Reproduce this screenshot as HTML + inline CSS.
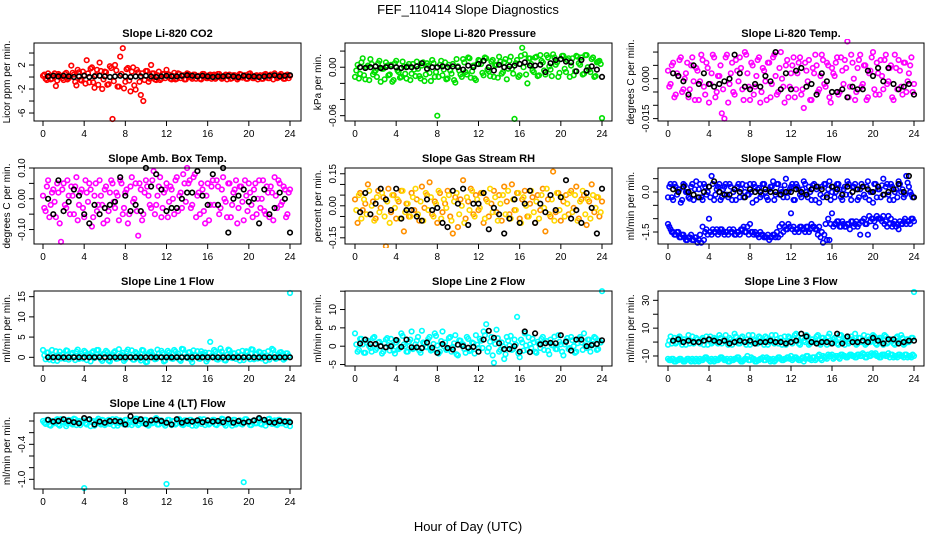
<!DOCTYPE html>
<html><head><meta charset="utf-8"><style>
html,body{margin:0;padding:0;background:#fff;}
svg{display:block;font-family:"Liberation Sans",sans-serif;}
</style></head><body>
<svg id="chart" width="936" height="540" viewBox="0 0 936 540" xmlns="http://www.w3.org/2000/svg">
<text x="468" y="14" text-anchor="middle" font-size="13">FEF_110414  Slope Diagnostics</text>
<text x="468" y="531" text-anchor="middle" font-size="13">Hour of Day (UTC)</text>
</svg>
<script>
const hours = Array.from({length:97},(_,i)=>i*0.25);
const hoursB = Array.from({length:96},(_,i)=>0.125+i*0.25);
const blackHours = Array.from({length:48},(_,i)=>0.5+i*0.5);
const xTicks = [0,4,8,12,16,20,24];

const co2Vals = [0.2,-0.3,0.6,-0.4,0.3,-1.5,0.5,0.1,-0.5,0.7,-0.2,1.9,0.4,
-1.4,0.8,-0.6,0.3,2.8,-0.9,1.6,-1.8,1.2,2.4,-2.0,0.9,
-1.3,1.8,-7.0,2.0,-1.6,3.4,4.8,-0.8,1.5,-2.4,1.6,-2.1,
0.8,-3.0,-4.0,1.0,-0.8,2.0,0.6,-0.5,0.9,-0.3,0.5,1.2,
0.4,-0.4,0.7,-0.3,0.5,0.2,-0.4,0.6,0.3,-0.3,0.4,0.1,
-0.3,0.5,0.2,-0.2,0.4,0.3,-0.3,0.5,0.2,-0.2,0.4,0.1,
-0.3,0.3,0.2,-0.2,0.4,0.1,-0.3,0.5,0.2,-0.2,0.3,0.1,
-0.3,0.4,0.2,-0.2,0.3,0.6,-0.2,0.3,0.1,-0.3,0.4,0.2];
const co2ValsB = [0.4,-0.5,0.2,-0.3,0.6,-0.6,0.3,-0.2,0.5,-0.4,0.1,0.7,
-0.8,1.2,-0.5,0.9,-1.1,0.6,1.4,-0.9,0.3,-1.3,1.0,-0.4,
0.8,-1.2,1.5,-0.7,1.1,-1.6,0.5,-1.9,1.3,-0.6,0.9,-1.4,
1.2,-0.8,0.6,-0.5,1.0,-0.3,0.6,-0.4,0.3,-0.5,0.5,-0.2,
0.5,-0.3,0.2,-0.4,0.6,-0.2,0.3,-0.4,0.5,-0.1,0.4,-0.3,
0.2,-0.4,0.5,-0.2,0.3,-0.3,0.4,-0.1,0.5,-0.3,0.2,-0.4,
0.4,-0.2,0.3,-0.4,0.5,-0.1,0.3,-0.3,0.6,-0.2,0.2,-0.4,
0.3,-0.3,0.5,-0.2,0.4,-0.4,0.2,-0.1,0.5,-0.3,0.3,-0.2];
const co2Black = [0.1,0.2,0.1,0.2,0.1,0,0.1,0.2,0,0.1,0.2,0.1,0,0.1,0.2,0.1,0,0.1,0.1,0.2,0.1,0,0.1,0.2,0.1,0.1,0.2,0.3,0.2,0.1,0.2,0.1,0,0.1,0.1,0.2,0.1,0,0.2,0.1,0.1,0,0.1,0.2,0.3,0.1,0.2,0.3];

const presVals = [-0.012,0.003,-0.008,0.011,-0.015,0.002,0.010,-0.009,-0.004,0.005,-0.018,-0.002,0.006,
-0.010,0.003,-0.016,0.008,-0.006,-0.012,0.001,-0.014,0.004,-0.008,-0.003,0.007,
-0.011,0.002,-0.017,0.005,-0.007,0.009,-0.012,-0.060,0.003,-0.010,0.006,-0.014,
-0.004,0.004,-0.019,0.001,-0.009,0.010,-0.006,0.012,-0.013,0.002,-0.016,0.009,
0.004,-0.010,0.011,-0.005,0.007,-0.012,0.003,0.013,-0.008,0.006,-0.015,0.008,
-0.002,-0.064,0.009,-0.010,0.024,0.016,-0.020,0.011,-0.004,0.012,-0.011,0.015,
0.006,-0.009,0.012,-0.003,0.016,0.003,-0.012,0.010,0.014,-0.006,0.011,0.002,
-0.010,0.014,0.005,0.012,-0.008,0.015,-0.003,0.010,-0.012,0.006,0.008,-0.063];
const presValsB = [-0.004,-0.014,0.006,-0.010,0.000,-0.016,0.004,-0.006,-0.012,0.008,-0.002,-0.015,
0.002,-0.009,-0.018,0.005,-0.004,-0.013,0.007,-0.008,0.001,-0.016,0.004,-0.011,
-0.002,-0.014,0.006,-0.009,0.002,-0.017,0.005,-0.006,-0.012,0.008,-0.003,-0.015,
0.003,-0.008,-0.016,0.010,-0.004,-0.012,0.006,-0.009,0.011,-0.005,-0.014,0.004,
0.008,-0.007,0.012,-0.003,-0.011,0.009,0.002,-0.013,0.007,-0.006,0.010,-0.002,
0.013,-0.008,0.005,-0.012,0.014,0.000,-0.009,0.011,0.004,-0.006,0.013,-0.010,
0.008,-0.004,0.015,0.001,-0.011,0.012,0.006,-0.007,0.014,-0.002,0.009,-0.012,
0.011,-0.005,0.013,0.003,-0.009,0.015,0.000,-0.006,0.012,-0.011,0.007,0.004];
const presBlack = [0.000,-0.001,0.000,0.001,-0.001,0.000,0.001,0.000,-0.001,0.000,0.000,0.001,0.005,-0.002,0.000,0.000,0.001,0.000,0.001,0.000,-0.003,0.002,0.000,0.004,0.008,0.000,-0.004,0.003,0.000,0.001,0.002,0.004,0.006,0.002,0.002,0.003,-0.006,0.005,0.009,0.010,0.007,0.006,-0.005,0.009,-0.004,0.001,-0.003,-0.012];

const tempVals = [0.003,-0.002,0.006,-0.006,0.001,0.008,-0.004,0.002,-0.007,0.005,-0.001,0.004,-0.008,
0.009,-0.003,0.006,-0.009,0.002,0.008,-0.005,0.001,-0.013,-0.015,0.009,-0.002,
0.006,-0.006,0.003,0.008,-0.004,0.010,0.002,-0.008,0.005,-0.003,0.007,-0.009,
0.004,-0.001,0.006,-0.007,0.008,0.001,-0.005,0.010,-0.003,0.005,-0.007,0.002,
0.008,-0.004,0.006,-0.006,-0.011,0.003,0.007,-0.008,0.002,0.005,-0.004,0.009,
-0.002,0.006,-0.007,0.004,0.001,0.008,-0.005,0.003,0.007,0.014,-0.003,0.006,
-0.008,0.004,0.009,-0.002,0.005,-0.007,0.003,0.010,-0.006,0.002,0.007,-0.004,
0.009,-0.001,0.005,-0.008,0.004,0.007,-0.003,0.006,-0.005,0.002,0.008,-0.002];
const tempValsB = [-0.003,0.005,-0.007,0.002,0.007,-0.005,0.000,0.006,-0.004,0.008,-0.008,0.003,
-0.001,0.007,-0.006,0.004,-0.002,0.009,-0.007,0.001,0.005,-0.004,0.008,-0.009,
0.002,-0.005,0.007,-0.001,0.004,-0.008,0.009,-0.003,0.006,-0.006,0.001,0.008,
-0.005,0.003,-0.008,0.006,-0.002,0.009,-0.006,0.004,0.000,-0.009,0.007,-0.003,
0.005,-0.007,0.002,0.008,-0.004,0.006,-0.001,-0.008,0.004,0.009,-0.005,0.001,
0.007,-0.003,0.005,-0.009,0.002,0.006,-0.006,0.008,-0.002,0.004,-0.007,0.009,
0.000,-0.005,0.007,-0.003,0.005,-0.008,0.002,0.008,-0.004,0.006,-0.006,0.001,
0.007,-0.002,0.004,-0.007,0.009,-0.004,0.003,-0.006,0.006,-0.001,0.005,-0.005];
const tempBlack = [0.002,0.001,-0.001,-0.006,0.005,-0.002,0.002,-0.002,-0.003,-0.002,-0.001,0.000,0.009,0.002,-0.003,-0.004,-0.002,-0.003,0.001,-0.001,0.010,-0.004,0.002,-0.004,0.003,0.004,-0.003,-0.002,-0.006,0.002,-0.001,-0.005,-0.005,-0.004,-0.007,-0.003,-0.004,-0.004,0.003,0.001,0.004,-0.001,0.004,-0.002,-0.004,-0.003,-0.002,-0.006];

const ambVals = [0.01,-0.04,0.06,-0.02,0.03,-0.06,0.02,-0.14,0.05,-0.03,0.01,0.04,-0.05,
0.07,-0.02,0.03,-0.06,0.02,0.05,-0.09,0.01,-0.04,0.06,-0.02,0.03,
-0.07,0.02,0.05,-0.03,0.01,0.06,-0.05,0.02,-0.08,0.04,-0.01,0.05,
-0.12,0.03,-0.05,0.06,0.01,-0.03,0.09,-0.02,0.04,-0.06,0.02,0.05,
-0.01,0.03,-0.05,0.07,0.01,-0.03,0.05,0.10,0.06,-0.02,0.08,0.01,
-0.05,0.03,-0.08,0.05,-0.02,0.06,-0.17,0.04,-0.03,0.07,-0.01,0.05,
-0.06,0.02,0.06,-0.03,0.04,-0.07,0.01,0.05,-0.02,0.03,-0.05,0.06,
0.00,-0.04,0.04,-0.06,0.02,0.07,-0.03,0.05,-0.01,0.03,-0.05,0.03];
const ambValsB = [-0.03,0.04,-0.06,0.02,-0.01,0.05,-0.08,0.03,-0.02,0.06,-0.05,0.01,
0.04,-0.07,0.02,-0.03,0.06,-0.01,0.03,-0.06,0.05,-0.02,0.01,-0.08,
0.04,-0.04,0.06,-0.01,0.02,-0.07,0.05,-0.03,0.03,-0.05,0.07,0.00,
-0.04,0.05,-0.07,0.02,0.04,-0.02,0.06,-0.05,0.01,0.07,-0.03,0.03,
-0.06,0.04,0.00,0.06,-0.04,0.02,0.08,-0.01,0.05,-0.03,0.07,-0.06,
0.02,0.05,-0.04,0.01,-0.07,0.04,-0.02,0.06,-0.05,0.03,0.00,-0.06,
0.05,-0.02,0.03,-0.08,0.04,-0.01,0.06,-0.04,0.02,-0.06,0.05,0.00,
-0.03,0.06,-0.05,0.02,0.04,-0.07,0.01,0.06,-0.02,0.04,-0.06,0.02];
const ambBlack = [0.00,-0.05,0.06,-0.04,-0.01,0.03,0.01,-0.05,-0.08,-0.02,-0.05,-0.03,-0.02,-0.01,0.07,0.01,-0.04,-0.02,-0.04,0.10,0.04,0.08,0.03,-0.04,-0.03,-0.03,0.00,0.02,0.02,0.09,0.01,-0.02,0.08,-0.02,0.10,-0.11,0.00,0.01,0.03,-0.01,0.00,-0.08,0.03,-0.05,-0.03,0.02,0.00,-0.11];

const rhVals = [0.03,-0.08,0.06,-0.02,0.01,0.10,-0.04,0.02,-0.06,0.07,-0.01,0.04,-0.19,
0.08,-0.03,0.05,-0.06,0.02,0.07,-0.12,0.01,-0.05,0.06,-0.02,0.03,
-0.07,0.09,-0.01,0.05,0.11,-0.04,0.02,-0.08,0.06,-0.03,0.01,0.07,
-0.05,-0.13,0.04,-0.10,0.03,0.12,-0.06,0.02,0.08,-0.04,0.05,-0.02,
0.06,-0.08,0.03,-0.05,0.01,0.07,-0.03,0.05,-0.07,0.09,0.02,-0.04,
0.10,-0.02,0.06,-0.06,0.03,0.07,-0.05,0.01,0.04,-0.08,0.05,-0.02,
0.08,-0.12,0.03,-0.05,0.16,-0.03,0.06,-0.07,0.02,0.05,-0.04,0.07,
-0.01,0.09,-0.06,0.03,0.05,-0.09,0.02,0.10,-0.03,0.04,-0.05,0.02];
const rhValsB = [-0.02,0.05,-0.06,0.03,-0.04,0.07,0.00,-0.07,0.04,-0.03,0.06,-0.05,
0.02,-0.08,0.05,-0.01,0.03,-0.06,0.07,-0.03,0.01,-0.05,0.04,0.08,
-0.04,0.02,-0.07,0.06,-0.02,0.04,-0.05,0.01,0.07,-0.06,0.03,-0.01,
0.05,-0.07,0.02,0.06,-0.04,0.00,-0.08,0.04,-0.02,0.07,-0.05,0.03,
-0.01,0.06,-0.06,0.02,0.08,-0.03,0.04,-0.07,0.01,0.05,-0.04,0.07,
-0.06,0.03,-0.02,0.06,-0.08,0.04,0.00,-0.05,0.07,-0.03,0.02,-0.06,
0.05,-0.01,0.08,-0.04,0.03,-0.07,0.06,-0.02,0.04,-0.05,0.01,0.06,
-0.03,0.05,-0.07,0.02,0.07,-0.04,0.03,-0.06,0.05,-0.01,0.04,-0.03];
const rhBlack = [-0.03,0.06,-0.04,0.01,0.08,0.03,-0.02,0.08,-0.06,-0.02,-0.02,-0.05,-0.07,0.03,-0.02,-0.01,-0.08,-0.10,0.07,0.01,0.08,-0.09,0.01,0.01,0.06,-0.11,-0.01,-0.04,-0.13,-0.06,0.03,-0.08,0.01,0.07,-0.08,0.01,-0.03,0.05,-0.02,0.04,0.12,-0.06,-0.02,-0.08,0.06,-0.01,-0.13,0.08];

const sampleUpper = [-0.2,0.3,-0.3,0.2,0.1,-0.4,0.3,0.0,-0.2,0.2,-0.3,0.4,0.1,
-0.2,0.3,-0.1,0.2,0.6,-0.3,0.1,0.3,-0.2,0.2,-0.1,0.3,
-0.3,0.1,0.2,-0.2,0.3,0.0,-0.1,0.3,-0.4,0.2,0.1,-0.2,
0.3,0.0,-0.3,0.2,0.4,-0.1,0.3,0.1,-0.2,0.5,0.0,0.2,
-0.3,0.3,0.1,-0.2,0.4,0.0,0.2,-0.3,0.3,0.1,-0.4,0.2,
0.3,-0.1,0.4,0.0,-0.2,0.3,0.1,-0.3,0.2,0.4,-0.1,0.2,
0.3,-0.3,0.1,0.2,-0.2,0.4,0.0,-0.4,0.3,0.1,-0.2,0.5,
0.2,-0.1,0.3,-0.3,0.1,0.4,0.0,-0.2,0.6,0.2,-0.1,1.2];
const sampleUpperB = [0.2,-0.2,0.3,-0.1,0.1,-0.3,0.25,0.0,-0.25,0.3,0.1,-0.2,
0.3,-0.3,0.2,0.0,-0.2,0.3,-0.1,0.2,-0.3,0.1,0.3,-0.2,
0.2,0.0,-0.3,0.3,0.1,-0.2,0.25,-0.1,0.0,0.3,-0.3,0.15,
-0.1,0.3,-0.2,0.1,0.2,-0.3,0.3,-0.1,0.0,0.25,-0.2,0.1,
0.3,-0.3,0.2,-0.1,0.1,0.3,-0.2,0.0,0.25,-0.3,0.2,-0.1,
-0.2,0.3,0.1,-0.3,0.2,0.0,0.3,-0.2,0.1,-0.1,0.3,-0.3,
0.2,0.1,-0.2,0.3,-0.1,0.2,-0.3,0.0,0.3,-0.2,0.1,0.25,
-0.1,0.3,-0.3,0.2,0.0,-0.2,0.3,0.1,-0.1,0.35,0.0,-0.2];
const sampleLower = [-1.2,-1.4,-1.5,-1.6,-1.5,-1.7,-1.6,-1.8,-1.7,-1.6,-1.8,-1.7,-1.8,
-1.9,-1.8,-1.4,-1.0,-1.6,-1.5,-1.4,-1.5,-1.4,-1.6,-1.5,-1.4,
-1.5,-1.6,-1.5,-1.6,-1.4,-1.5,-1.3,-1.2,-1.5,-1.5,-1.6,-1.5,
-1.6,-1.7,-1.6,-1.7,-1.6,-1.7,-1.7,-1.6,-1.5,-1.4,-1.2,-0.8,
-1.3,-1.4,-1.5,-1.3,-1.4,-1.3,-1.5,-1.2,-1.3,-1.4,-1.3,-1.5,
-1.6,-1.8,-1.8,-0.8,-1.2,-1.1,-1.3,-1.1,-1.3,-1.2,-1.4,-1.1,
-1.2,-1.3,-1.6,-1.1,-1.2,-1.6,-1.1,-1.0,-1.3,-1.0,-1.0,-0.9,
-1.1,-0.9,-1.0,-1.2,-1.3,-1.4,-1.2,-1.1,-1.2,-1.1,-1.0,-1.1];
const sampleLowerB = [-1.3,-1.5,-1.6,-1.5,-1.7,-1.6,-1.7,-1.8,-1.7,-1.8,-1.7,-1.9,
-1.6,-1.3,-1.5,-1.6,-1.5,-1.4,-1.5,-1.6,-1.4,-1.5,-1.5,-1.6,
-1.5,-1.4,-1.6,-1.5,-1.4,-1.3,-1.5,-1.6,-1.5,-1.6,-1.6,-1.7,
-1.6,-1.7,-1.7,-1.8,-1.7,-1.6,-1.5,-1.3,-1.2,-1.3,-1.4,-1.3,
-1.4,-1.5,-1.4,-1.3,-1.4,-1.5,-1.3,-1.4,-1.3,-1.4,-1.6,-1.7,
-1.9,-1.2,-1.0,-1.2,-1.3,-1.2,-1.1,-1.3,-1.2,-1.3,-1.2,-1.1,
-1.3,-1.1,-1.2,-1.1,-1.0,-1.2,-0.9,-1.0,-1.1,-0.9,-1.0,-1.1,
-1.2,-1.3,-1.2,-1.3,-1.1,-1.2,-1.1,-1.2,-1.0,-1.1,-1.2,-1.0];
const sampleBlack = [0.1,0.0,0.2,0.0,-0.1,-0.2,0.0,0.2,0.4,0.0,-0.1,-0.1,0.1,0.0,-0.2,0.1,0.0,0.0,0.1,0.0,0.0,-0.1,0.0,0.0,0.1,0.0,-0.1,0.1,0.2,0.1,-0.2,0.2,0.1,-0.1,0.2,0.0,0.1,0.2,0.1,0.0,0.2,-0.1,0.0,0.1,0.3,0.0,0.6,-0.2];

const line1Vals = [1.8,-0.5,1.2,0.3,-0.8,1.5,0.6,-0.3,1.0,1.7,-0.6,0.8,0.2,
1.4,-0.4,0.9,1.6,-0.7,0.5,1.2,-0.2,1.8,0.4,-0.9,0.8,
1.3,-1.0,0.7,1.5,-0.3,0.4,1.1,-0.5,1.9,0.2,-0.6,1.3,
0.6,-0.8,1.7,-1.2,0.9,1.4,0.1,-0.4,1.0,1.6,-1.0,0.5,
1.2,-0.3,1.8,0.4,-0.6,2.1,0.8,-0.2,1.3,-1.2,0.6,1.5,
-0.4,0.9,1.2,-0.5,3.8,0.3,1.4,-0.6,2.2,0.5,-0.8,1.9,
0.2,1.0,-0.4,1.3,0.6,-0.7,1.5,0.2,2.0,-0.5,0.9,1.4,
-0.3,1.1,0.4,-0.6,2.1,0.7,-0.2,1.2,0.4,-0.3,1.0,15.9];
const line1ValsB = [0.5,1.2,-0.6,1.8,0.2,-0.9,1.4,0.7,-0.4,1.6,0.0,1.1,
-0.7,1.9,0.4,-0.3,1.3,0.8,-1.0,1.5,0.2,1.8,-0.5,0.9,
1.6,-0.8,0.3,1.2,-0.4,2.0,0.6,-0.9,1.4,0.1,1.7,-0.6,
1.0,-0.3,1.8,0.4,-1.1,1.3,0.7,-0.5,1.9,0.2,1.1,-0.8,
1.6,0.3,-0.4,1.4,0.9,-0.9,2.0,0.1,1.2,-0.6,1.7,0.5,
-0.3,1.5,0.8,-1.0,1.1,0.3,1.8,-0.5,0.9,1.4,-0.7,0.6,
1.7,-0.2,1.0,0.4,-0.8,1.6,0.2,1.3,-0.5,1.9,0.7,-0.3,
1.2,0.5,-0.9,1.5,0.1,1.8,-0.4,0.8,1.3,-0.6,1.0,0.4];
const line1Black = [0,0,0,0,0,0,0,0,0,0,0,0,0,0,0,0,0,0,0,0,0,0,0,0,0,0,0,0,0,0,0,0,0,0,0,0,0,0,0,0,0,0,0,0,0,0,0,0];

const line2Vals = [3.5,-1.5,2.0,0.5,-1.8,1.5,-0.5,2.2,-1.0,1.0,0.0,-1.5,1.8,
0.3,2.0,-1.2,1.0,-0.8,3.5,0.5,-1.5,1.2,4.0,-0.5,1.5,
-1.2,4.2,0.8,-0.3,2.5,-1.0,3.5,0.2,-1.5,4.0,1.0,-0.8,
2.5,-0.2,3.0,-2.5,1.5,0.5,-1.8,2.0,-1.0,0.8,3.0,-0.5,
1.5,4.0,6.0,-0.5,2.5,-4.5,4.5,-1.5,1.0,-3.5,2.5,0.2,
-1.0,1.8,8.0,-3.0,1.0,3.5,-1.0,0.5,2.0,-1.5,1.2,-0.5,
2.5,0.8,-1.2,1.8,0.2,-0.8,3.0,0.5,-2.5,1.5,-0.8,2.5,
0.0,-1.5,2.0,1.0,3.5,-0.5,1.8,0.2,2.5,-1.0,1.5,15.0];
const line2ValsB = [0.5,-1.0,2.0,-1.8,1.0,0.0,-1.5,2.5,-0.5,1.2,-2.0,0.8,
2.2,-1.2,0.3,-2.0,1.5,-0.5,2.8,0.0,-1.5,1.8,-0.8,0.5,
2.5,-1.8,1.0,-0.2,2.0,-1.2,0.6,2.8,-2.0,1.4,0.0,-1.0,
2.2,-1.5,0.8,-2.2,1.6,0.2,-0.8,2.5,-1.3,1.0,-2.0,0.4,
2.0,-0.5,3.0,-1.5,1.2,-2.5,0.6,2.2,-1.0,0.0,-2.2,1.5,
2.8,-0.8,0.5,-2.0,1.8,-1.2,0.2,2.4,-0.5,1.0,-1.8,0.6,
2.0,-1.0,1.4,-2.2,0.3,2.6,-0.8,1.2,-1.5,0.5,2.2,-0.5,
1.6,-1.8,0.8,2.5,-1.0,0.2,1.8,-1.5,0.6,2.2,-0.8,1.0];
const line2Black = [0.7,1.8,0.6,0.6,0.0,-0.3,0.0,1.7,-0.2,1.8,-0.3,-0.3,-0.5,1.0,-0.4,-1.8,0.6,-0.5,-0.9,0.4,0.0,-0.4,-0.2,-1.5,1.8,4.2,2.3,0.8,-0.8,-0.8,0.0,-1.5,4.0,-1.6,3.5,0.5,0.8,0.9,0.8,3.0,1.2,-1.2,1.8,1.8,0.0,0.3,0.6,1.6];

const line3Upper = [-2,4,1,-1,3,0,2,-2,5,1,-1,3,0,
2,-2,4,1,-1,3,0,5,-1,2,0,3,
-2,6,1,-1,4,0,2,-2,5,1,-1,3,
0,4,-2,2,0,5,-1,3,1,-2,4,0,
2,6,-1,3,1,5,-2,2,0,4,-1,3,
1,-2,6,0,3,-1,5,1,-2,4,0,2,
6,-1,3,1,-2,4,0,5,-1,2,3,-2,
4,0,2,-1,3,1,5,-2,2,0,3,36];
const line3UpperB = [1,-1,3,0,4,-2,2,1,-1,4,0,2,
-1,3,1,-2,4,0,2,-1,3,1,5,-2,
2,0,4,-1,3,1,-2,5,0,2,-1,4,
1,-2,3,0,5,-1,2,1,-2,4,0,3,
-1,5,1,-2,3,0,4,-1,2,1,5,-2,
3,0,4,-1,2,1,-2,5,0,3,-1,4,
1,-2,3,0,5,-1,2,1,4,-2,3,0,
5,-1,2,1,-2,4,0,3,-1,2,1,3];
const line3Lower = [-12,-13,-12,-14,-13,-12,-14,-13,-12,-14,-13,-12,-14,
-13,-12,-11,-13,-12,-14,-13,-12,-11,-13,-12,-14,
-13,-12,-11,-13,-14,-12,-10,-13,-12,-14,-13,-12,
-11,-13,-12,-14,-12,-13,-11,-12,-13,-12,-11,-10,
-12,-11,-13,-12,-14,-10,-12,-13,-11,-12,-9,-13,
-11,-12,-10,-9,-11,-10,-12,-9,-10,-11,-9,-10,
-11,-9,-10,-8,-11,-9,-10,-9,-8,-10,-11,-9,
-10,-8,-9,-11,-10,-9,-10,-11,-9,-10,-11,-10];
const line3LowerB = [-13,-12,-14,-13,-12,-13,-14,-12,-13,-12,-14,-13,
-12,-13,-11,-12,-14,-13,-12,-13,-11,-12,-13,-14,
-12,-13,-12,-11,-14,-13,-12,-13,-11,-12,-14,-13,
-12,-13,-11,-12,-13,-14,-12,-11,-13,-12,-11,-12,
-13,-11,-12,-13,-11,-12,-10,-12,-11,-13,-10,-12,
-10,-11,-9,-10,-12,-10,-11,-9,-10,-11,-10,-9,
-10,-11,-9,-10,-9,-11,-10,-8,-9,-10,-11,-9,
-9,-10,-11,-9,-10,-11,-9,-10,-9,-11,-10,-9];
const line3Black = [1,2,0,1,0,0,1,2,1,0,1,-1,0,1,0,1,-1,0,0,1,0,0,-1,0,1,6,4,0,-1,0,0,-1,6,-1,4,0,0,1,0,3,1,-1,2,2,-1,0,1,1];

const line4Vals = [0.0,-0.05,0.02,-0.08,-0.03,0.01,-0.06,0.03,-0.02,-0.09,0.02,-0.04,0.04,
-0.07,0.0,-0.03,-1.15,-0.06,0.03,-0.02,-0.08,0.01,-0.04,0.02,-0.07,
0.0,-0.05,0.03,-0.02,-0.08,0.01,-0.04,0.02,-0.06,0.0,-0.03,0.04,
-0.07,0.01,-0.04,0.02,-0.08,0.0,-0.03,0.05,-0.06,0.01,-0.05,-1.08,
0.02,-0.07,0.0,-0.04,0.03,-0.06,0.01,-0.03,0.02,-0.08,0.0,-0.05,
0.03,-0.02,-0.07,0.01,-0.04,0.02,-0.06,0.0,-0.03,0.03,-0.08,0.01,
-0.04,0.02,-0.06,0.0,-0.05,-1.05,0.03,-0.03,-0.07,0.01,-0.04,0.03,
-0.06,0.0,-0.02,0.04,-0.05,0.01,-0.07,0.02,-0.04,0.0,-0.03,-0.09];
const line4ValsB = [-0.03,0.02,-0.07,0.0,-0.04,0.03,-0.08,-0.01,0.02,-0.05,0.01,-0.06,
0.03,-0.02,-0.07,0.01,-0.04,0.02,-0.09,0.0,-0.03,0.04,-0.06,0.01,
-0.05,0.02,-0.02,-0.08,0.03,-0.04,0.0,-0.06,0.02,-0.03,-0.07,0.01,
0.04,-0.05,-0.01,0.02,-0.07,0.0,-0.04,0.03,-0.06,0.01,-0.02,-0.08,
0.02,-0.04,0.0,-0.06,0.03,-0.03,-0.07,0.01,-0.05,0.02,-0.02,-0.08,
0.01,-0.05,0.03,-0.03,-0.06,0.0,0.02,-0.07,-0.02,0.04,-0.05,0.0,
-0.03,-0.08,0.02,-0.04,0.01,-0.06,0.03,-0.02,-0.07,0.0,-0.04,0.02,
-0.05,0.01,-0.08,0.03,-0.03,0.0,-0.06,0.02,-0.04,-0.01,-0.07,0.0];
const line4Black = [0.02,-0.01,0.0,0.03,0.0,-0.02,-0.04,0.05,0.03,-0.06,-0.01,-0.03,0.0,0.0,-0.01,-0.06,0.08,0.0,0.03,-0.05,0.01,0.02,0.0,-0.03,-0.06,0.03,-0.03,0.0,-0.01,0.01,-0.02,0.01,-0.01,0.0,-0.02,0.03,-0.03,0.0,-0.03,-0.01,0.01,0.05,0.02,-0.02,-0.03,0.0,-0.01,-0.02];

const NS = "http://www.w3.org/2000/svg";
const svg = document.getElementById('chart');
const cols = [{L:34,R:301,x0:43,x24:290},{L:345,R:612,x0:355,x24:602},{L:658,R:924,x0:668,x24:914}];
const rows = [{T:43,B:121},{T:168,B:244},{T:291,B:366},{T:413,B:489}];

const panels = [
 {key:'co2',title:'Slope Li-820 CO2',ylab:'Licor ppm per min.',r:0,c:0,dom:[-7.33,5.67],ticks:[4,2,0,-2,-4,-6],labels:[[2,'2'],[-2,'-2'],[-6,'-6']],color:'#ff0000',colorB:'#ff0000',series:[co2Vals],seriesB:[co2ValsB],black:co2Black},
 {key:'pressure',title:'Slope Li-820 Pressure',ylab:'kPa per min.',r:0,c:1,dom:[-0.0666,0.030],ticks:[0.02,0,-0.02,-0.04,-0.06],labels:[[0,'0.00'],[-0.06,'-0.06']],color:'#00e000',colorB:'#00e000',series:[presVals],seriesB:[presValsB],black:presBlack},
 {key:'temp',title:'Slope Li-820 Temp.',ylab:'degrees C per min.',r:0,c:2,dom:[-0.0159,0.0134],ticks:[0.01,0.005,0,-0.005,-0.01,-0.015],labels:[[0,'0.000'],[-0.015,'-0.015']],color:'#ff00ff',colorB:'#ff00ff',series:[tempVals],seriesB:[tempValsB],black:tempBlack},
 {key:'amb-box',title:'Slope Amb. Box Temp.',ylab:'degrees C per min.',r:1,c:0,dom:[-0.147,0.10],ticks:[0.1,0.05,0,-0.05,-0.1],labels:[[0.1,'0.10'],[0,'0.00'],[-0.1,'-0.10']],color:'#ff00ff',colorB:'#ff00ff',series:[ambVals],seriesB:[ambValsB],black:ambBlack},
 {key:'gas-rh',title:'Slope Gas Stream RH',ylab:'percent per min.',r:1,c:1,dom:[-0.179,0.177],ticks:[0.15,0.1,0.05,0,-0.05,-0.1,-0.15],labels:[[0.15,'0.15'],[0,'0.00'],[-0.15,'-0.15']],color:'#ff9000',colorB:'#ffd800',series:[rhVals],seriesB:[rhValsB],black:rhBlack},
 {key:'sample-flow',title:'Slope Sample Flow',ylab:'ml/min per min.',r:1,c:2,dom:[-1.95,0.9],ticks:[0.5,0,-0.5,-1,-1.5],labels:[[0,'0.0'],[-1.5,'-1.5']],color:'#0000ff',colorB:'#0000ff',series:[sampleUpper,sampleLower],seriesB:[sampleUpperB,sampleLowerB],black:sampleBlack},
 {key:'line1',title:'Slope Line 1 Flow',ylab:'ml/min per min.',r:2,c:0,dom:[-2.15,16.4],ticks:[0,5,10,15],labels:[[0,'0'],[5,'5'],[10,'10'],[15,'15']],color:'#00ffff',colorB:'#00ffff',series:[line1Vals],seriesB:[line1ValsB],black:line1Black},
 {key:'line2',title:'Slope Line 2 Flow',ylab:'ml/min per min.',r:2,c:1,dom:[-5.4,15.05],ticks:[-5,0,5,10,15],labels:[[-5,'-5'],[0,'0'],[5,'5'],[10,'10']],color:'#00ffff',colorB:'#00ffff',series:[line2Vals],seriesB:[line2ValsB],black:line2Black},
 {key:'line3',title:'Slope Line 3 Flow',ylab:'ml/min per min.',r:2,c:2,dom:[-17.2,36.7],ticks:[-10,0,10,20,30],labels:[[-10,'-10'],[10,'10'],[30,'30']],color:'#00ffff',colorB:'#00ffff',series:[line3Upper,line3Lower],seriesB:[line3UpperB,line3LowerB],black:line3Black},
 {key:'line4',title:'Slope Line 4 (LT) Flow',ylab:'ml/min per min.',r:3,c:0,dom:[-1.166,0.137],ticks:[0,-0.2,-0.4,-0.6,-0.8,-1.0],labels:[[-0.4,'-0.4'],[-1.0,'-1.0']],color:'#00ffff',colorB:'#00ffff',series:[line4Vals],seriesB:[line4ValsB],black:line4Black}
];

function mk(tag, attrs, parent){
  const e = document.createElementNS(NS, tag);
  for (const k in attrs) e.setAttribute(k, attrs[k]);
  (parent||svg).appendChild(e);
  return e;
}

panels.forEach(p=>{
  const col = cols[p.c], row = rows[p.r];
  const xs = h => col.x0 + (col.x24-col.x0)*h/24;
  const ys = v => row.B - (v - p.dom[0])/(p.dom[1]-p.dom[0])*(row.B-row.T);
  const g = mk('g',{});
  
  
  const clip = mk('clipPath',{id:'clip-'+p.key}, g);
  mk('rect',{x:col.L,y:row.T-4,width:col.R-col.L,height:row.B-row.T+8}, clip);
  const pts = mk('g',{'clip-path':'url(#clip-'+p.key+')'}, g);
  
  
  function drawSeries(xArr, vals, color, name){
    vals.forEach((v,i)=>{
      if (i >= xArr.length) return;
      const c = mk('circle',{cx:xs(xArr[i]).toFixed(1),cy:ys(v).toFixed(1),r:2.3,fill:'none',stroke:color,'stroke-width':1.6}, pts);
      
      
    });
  }
  p.series.forEach(vals=>drawSeries(hours, vals, p.color, p.key + '-point'));
  p.seriesB.forEach(vals=>drawSeries(hoursB, vals, p.colorB, p.key + '-point'));
  drawSeries(blackHours, p.black, '#000', p.key + '-black-point');
  const box = mk('rect',{x:col.L,y:row.T,width:col.R-col.L,height:row.B-row.T,fill:'none',stroke:'#000','stroke-width':1}, g);
  
  
  const t = mk('text',{x:(col.L+col.R)/2,y:row.T-6,'text-anchor':'middle','font-size':11,'font-weight':'bold'}, g);
  t.textContent = p.title;
  
  
  xTicks.forEach(h=>{
    const x = xs(h);
    mk('line',{x1:x,x2:x,y1:row.B,y2:row.B+5,stroke:'#000'}, g);
    const tl = mk('text',{x:x,y:row.B+16,'text-anchor':'middle','font-size':10}, g);
    tl.textContent = h;
    
    
  });
  p.ticks.forEach(v=>{
    const y = ys(v);
    mk('line',{x1:col.L-5,x2:col.L,y1:y,y2:y,stroke:'#000'}, g);
  });
  p.labels.forEach(([v,s])=>{
    const y = ys(v), x = col.L-9;
    const tl = mk('text',{x:x,y:y,'text-anchor':'middle','font-size':10,transform:'rotate(-90 '+x+' '+y+')'}, g);
    tl.textContent = s;
    
    
  });
  const lx = col.L-24, ly = (row.T+row.B)/2;
  const yl = mk('text',{x:lx,y:ly,'text-anchor':'middle','font-size':10,transform:'rotate(-90 '+lx+' '+ly+')'}, g);
  yl.textContent = p.ylab;
  
  
});
</script>
</body></html>
